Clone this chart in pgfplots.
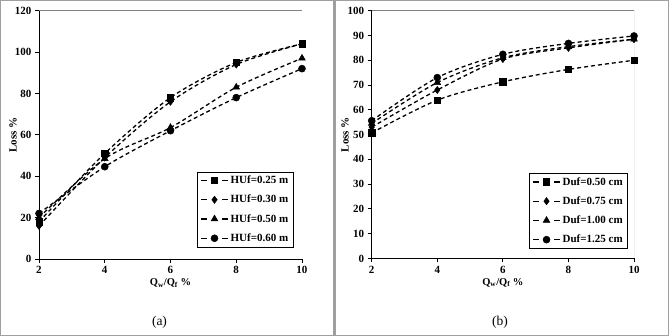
\documentclass[border=0pt]{standalone}
\usepackage{fontspec}
\setmainfont{Liberation Serif}
\usepackage{pgfplots}
\pgfplotsset{compat=1.18}
\pgfplotsset{
  myax/.style={
    scale only axis,
    axis x line*=bottom, axis y line*=left,
    axis line style={black, line width=0.9pt},
    tick align=outside,
    major tick length=4pt,
    tick style={black, line width=0.9pt},
    xmin=2, xmax=10, xtick={2,4,6,8,10},
    /pgf/number format/assume math mode=true,
    ticklabel style={font=\bfseries\fontsize{11}{12}\selectfont},
    xlabel={\bfseries Q\textsubscript{w}/Q\textsubscript{f} \%},
    xlabel style={font=\fontsize{10.5}{12}\selectfont, at={(axis description cs:0.5,-0.097)}, anchor=center},
    ylabel={\bfseries Loss \%},
    ylabel style={font=\fontsize{11}{13}\selectfont, anchor=center},
    legend cell align=left,
    legend style={draw=black, line width=0.6pt, font=\bfseries\fontsize{11}{12}\selectfont, inner xsep=3pt, inner ysep=2pt, row sep=6pt, anchor=north west},
    legend image code/.code={
      \draw[##1,solid,mark=none] (0pt,0pt)--(6pt,0pt) (21pt,0pt)--(27pt,0pt);
      \draw[##1,solid] plot coordinates {(13.5pt,0pt)};
    },
  },
  ser/.style={black, line width=1.3pt, dash pattern=on 4pt off 3pt, smooth, tension=0.5, mark options={solid, fill=black, draw=black, line width=0.5pt}},
  sq/.style={ser, mark=square*, mark size=3.2pt},
  di/.style={ser, mark=diamond*, mark size=3.6pt},
  tr/.style={ser, mark=triangle*, mark size=3.9pt},
  ci/.style={ser, mark=*, mark size=3.5pt},
}
\begin{document}
\begin{tikzpicture}
\useasboundingbox (0pt,0pt) rectangle (669pt,336pt);
\draw[gray!75, line width=1.3pt] (0.7pt,0.7pt) rectangle (334pt,335.3pt);
\draw[gray!75, line width=1.3pt] (335.2pt,0.7pt) rectangle (668.3pt,335.3pt);

\begin{axis}[myax, at={(39pt,77pt)}, anchor=south west, width=263pt, height=248.3pt,
  ymin=0, ymax=120, ytick={0,20,...,120},
  ylabel style={at={(axis description cs:-0.099,0.5)}},
  legend style={at={(rel axis cs:0.601,0.352)}}]
\draw[gray, line width=0.9pt] (rel axis cs:0,1) -- (rel axis cs:1,1) -- (rel axis cs:1,0);
\addplot[sq] coordinates {(2,18) (4,51) (6,78) (8,95) (10,104)};
\addlegendentry{HUf=0.25 m}
\addplot[di] coordinates {(2,16) (4,49) (6,76) (8,94) (10,104)};
\addlegendentry{HUf=0.30 m}
\addplot[tr] coordinates {(2,20) (4,48.5) (6,63.5) (8,83) (10,97)};
\addlegendentry{HUf=0.50 m}
\addplot[ci] coordinates {(2,22) (4,44.6) (6,62) (8,78) (10,92)};
\addlegendentry{HUf=0.60 m}
\end{axis}

\begin{axis}[myax, at={(371.7pt,77.5pt)}, anchor=south west, width=262.3pt, height=247.8pt,
  ymin=0, ymax=100, ytick={0,10,...,100},
  ylabel style={at={(axis description cs:-0.102,0.5)}},
  legend style={at={(rel axis cs:0.600,0.345)}}]
\draw[gray, line width=0.9pt] (rel axis cs:0,1) -- (rel axis cs:1,1) -- (rel axis cs:1,0);
\addplot[sq] coordinates {(2,50.7) (4,63.9) (6,71.3) (8,76.3) (10,80)};
\addlegendentry{Duf=0.50 cm}
\addplot[di] coordinates {(2,53) (4,68) (6,80.5) (8,85) (10,88.5)};
\addlegendentry{Duf=0.75 cm}
\addplot[tr] coordinates {(2,54.5) (4,71) (6,81) (8,85.5) (10,88.5)};
\addlegendentry{Duf=1.00 cm}
\addplot[ci] coordinates {(2,55.6) (4,73) (6,82.4) (8,86.8) (10,89.8)};
\addlegendentry{Duf=1.25 cm}
\end{axis}

\node[font=\fontsize{13.5}{15}\selectfont] at (159.5pt,14pt) {(a)};
\node[font=\fontsize{13.5}{15}\selectfont] at (500pt,14pt) {(b)};
\end{tikzpicture}
\end{document}
